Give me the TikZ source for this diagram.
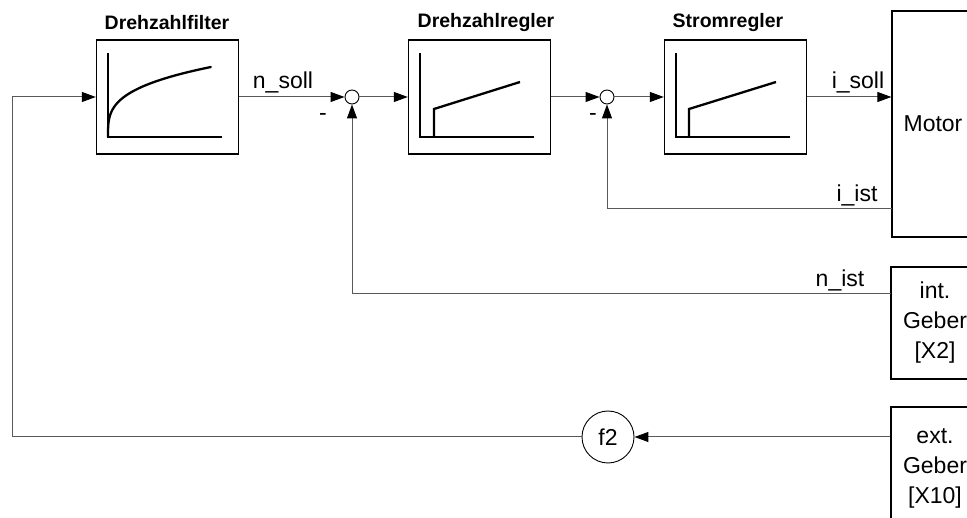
\documentclass[tikz,border=0pt]{standalone}
\usepackage{fontspec}
\setmainfont{Liberation Sans}
\usetikzlibrary{arrows.meta}
\begin{document}
\begin{tikzpicture}[x=1pt,y=-1pt,
  txt/.style={font=\fontsize{23}{26}\selectfont, inner sep=0pt},
  ttl/.style={font=\fontsize{19.5}{22}\selectfont\bfseries, inner sep=0pt},
  blk/.style={draw=black, line width=1.4pt, minimum width=142pt, minimum height=114pt, inner sep=0pt},
  side/.style={draw=black, line width=1.2pt, inner sep=0pt, align=center, font=\fontsize{23}{30}\selectfont},
  sum/.style={draw=black, circle, line width=0.9pt, minimum size=14pt, inner sep=0pt},
  conn/.style={draw=black!65, line width=1pt},
  arr/.style={conn, -{Triangle[length=14pt,width=10pt,fill=black,color=black]}},
  axis/.style={line width=1.4pt, black},
  curve/.style={line width=2.3pt, black, line cap=round}]
\clip (0,0) rectangle (967,518);
\useasboundingbox (0,0) rectangle (967,518);

% blocks
\node[blk] (filt) at (167.5,97) {};
\node[blk] (reg1) at (479.5,97) {};
\node[blk] (reg2) at (735.5,97) {};
\node[ttl] (tfilt) at (167,23) {Drehzahlfilter};
\node[ttl] (treg1) at (486,23) {Drehzahlregler};
\node[ttl] (treg2) at (728,23) {Stromregler};

\node[sum] (s1) at (352,97) {};
\node[sum] (s2) at (607,97) {};

\node[side, minimum width=88pt, minimum height=226pt] (motor) at (936,124) {Motor\hspace*{6pt}};
\node[side, minimum width=88pt, minimum height=112pt] (intg) at (935,323) {int.\\Geber\\{[X2]}};
\node[side, minimum width=88pt, minimum height=122pt] (extg) at (935,468) {ext.\\Geber\\{[X10]}};
\node[draw=black, circle, line width=0.9pt, minimum size=52pt, inner sep=0pt, font=\fontsize{23}{26}\selectfont] (f2) at (608,437) {f2};

% inner plots
\draw[axis] (108,53) -- (108,137) -- (222,137);
\draw[curve] (108,137) -- plot[domain=0.02:1, samples=60, variable=\u] ({108+103*(\u^3.33)},{137-70*\u});
\draw[axis] (420,53) -- (420,137) -- (534,137);
\draw[curve, line cap=butt] (434,137) -- (434,109) -- (520,82);
\draw[axis] (676,53) -- (676,137) -- (790,137);
\draw[curve, line cap=butt] (689,137) -- (689,109) -- (776,82);

% connectors
\coordinate (cl) at (12,437);
\coordinate (ci) at (892,209);
\coordinate (cn) at (891,294);
\draw[arr] (f2.east -| extg.west) -- (f2.east);
\draw[arr] (f2.west) -- (cl) |- (filt.west);
\draw[arr] (filt.east) -- (s1.west);
\draw[arr] (s1.east) -- (reg1.west);
\draw[arr] (reg1.east) -- (s2.west);
\draw[arr] (s2.east) -- (reg2.west);
\draw[arr] (reg2.east) -- (reg2.east -| motor.west);
\draw[arr] (ci) -| (s2.south);
\draw[arr] (cn) -| (s1.south);

% labels
\node[txt] (lnsoll) at (283,82) {n\_soll};
\node[txt] (lisoll) at (858,82) {i\_soll};
\node[txt] (liist) at (857,195) {i\_ist};
\node[txt] (lnist) at (840,280) {n\_ist};
\node[txt] (m1) at (323,117) {-};
\node[txt] (m2) at (593,117) {-};
\end{tikzpicture}
\end{document}
